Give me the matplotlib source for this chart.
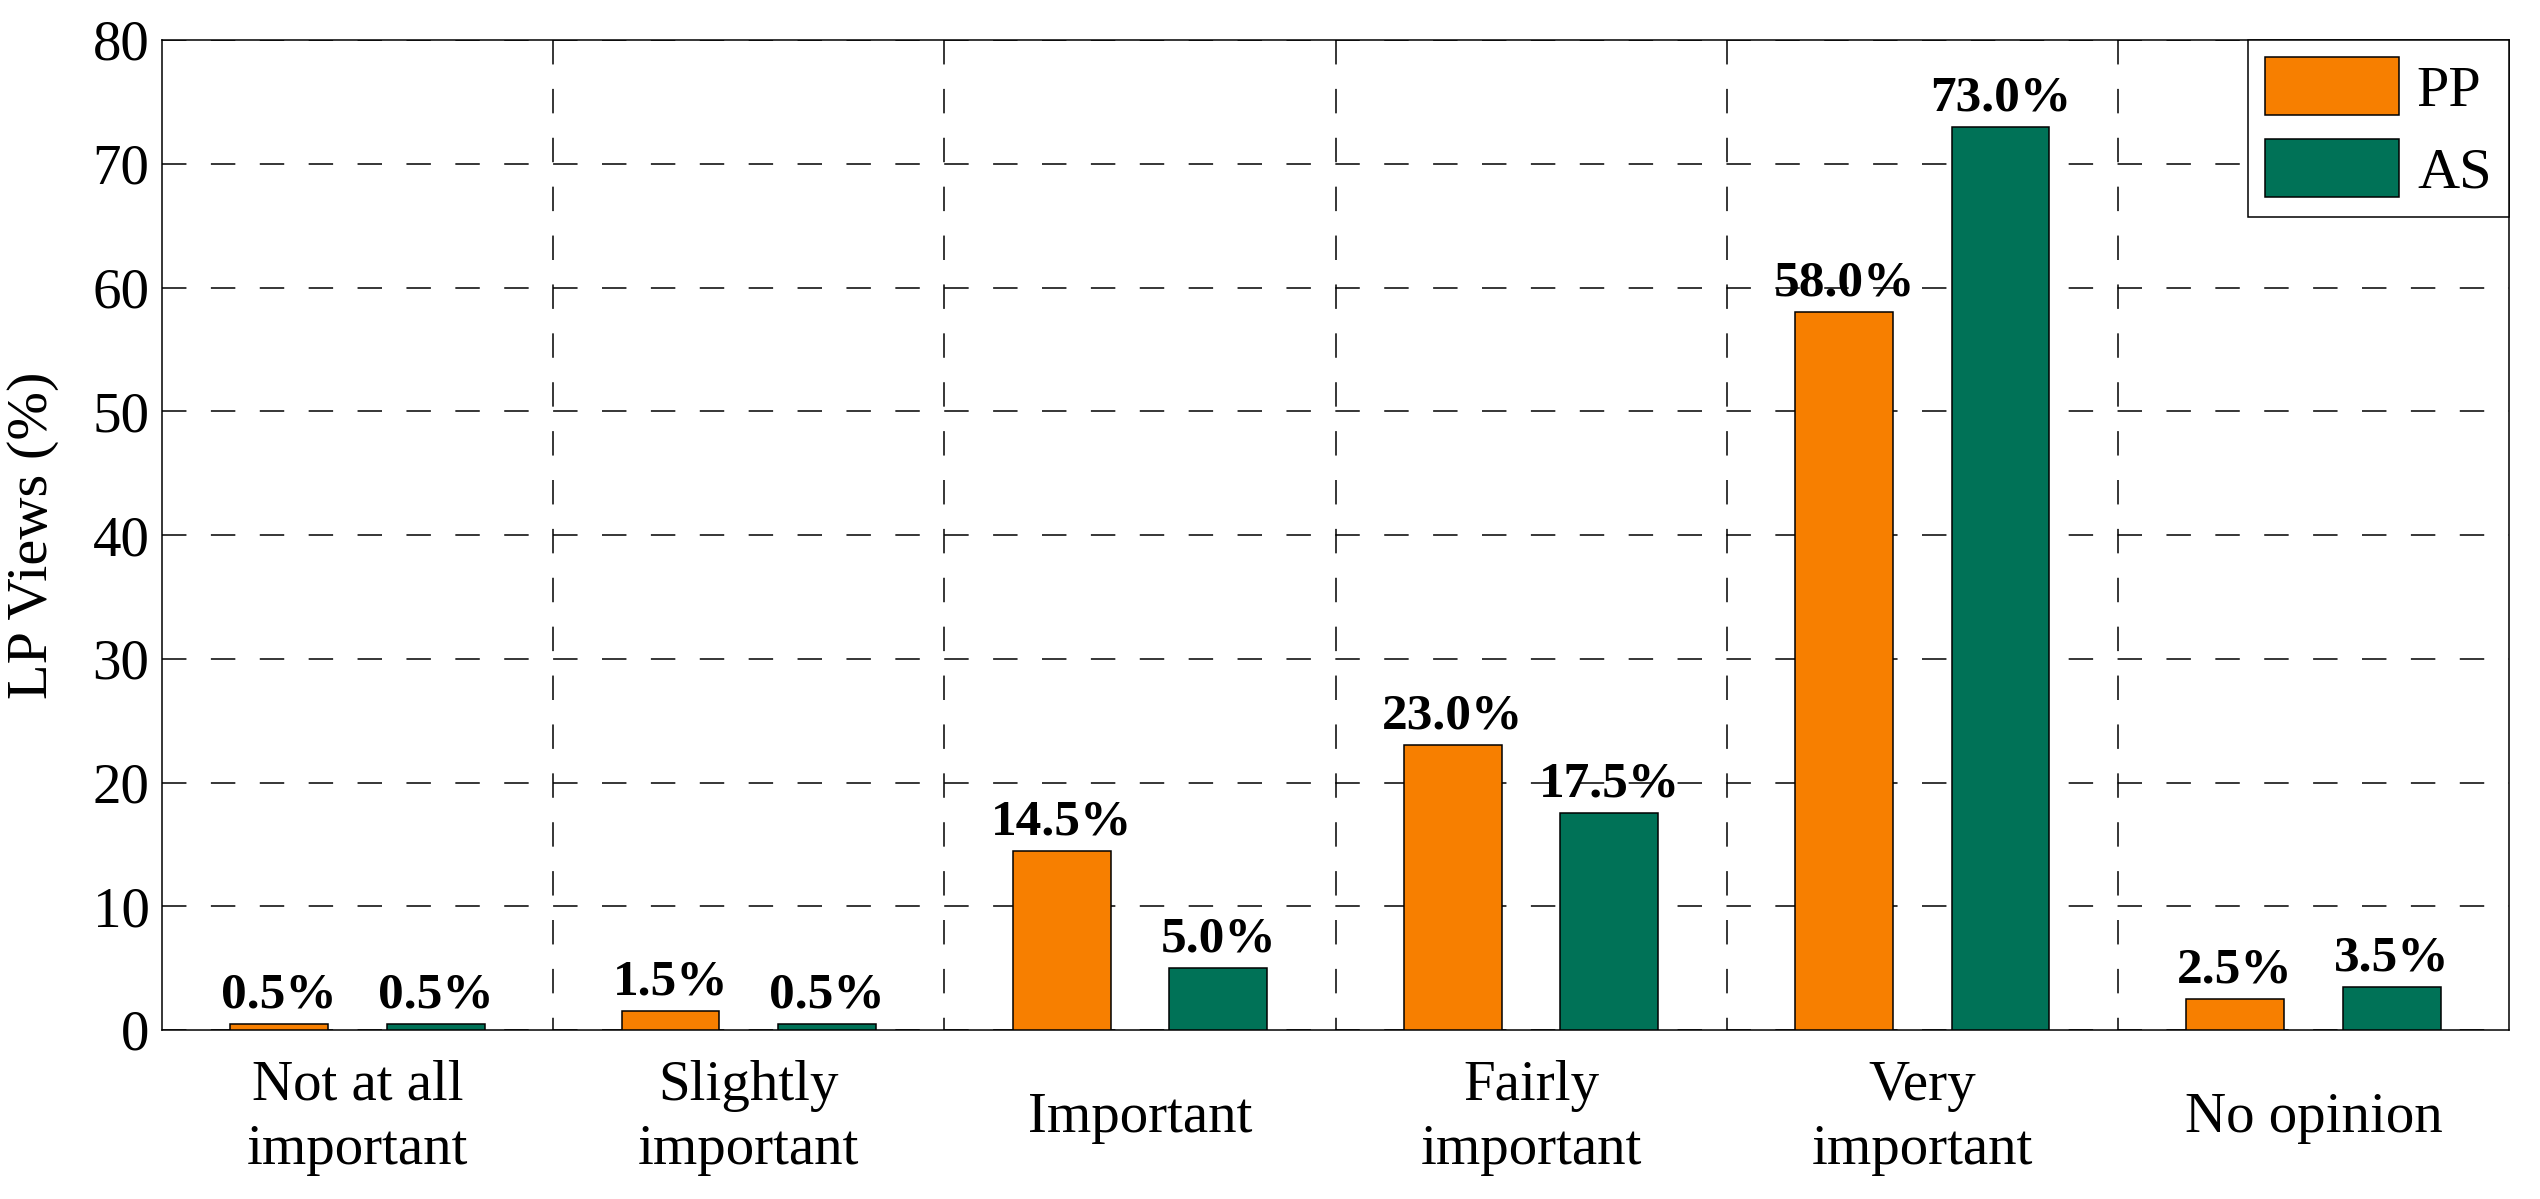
import matplotlib
matplotlib.use("Agg")
import matplotlib.pyplot as plt
import numpy as np

# survey answers, percent of respondents
categories = ["Not at all\nimportant", "Slightly\nimportant", "Important",
              "Fairly\nimportant", "Very\nimportant", "No opinion"]
pp_values = [0.5, 1.5, 14.5, 23.0, 58.0, 2.5]
as_values = [0.5, 0.5, 5.0, 17.5, 73.0, 3.5]
series_names = ["PP", "AS"]
yticks = [0, 10, 20, 30, 40, 50, 60, 70, 80]

plt.rcParams['font.family'] = ['Liberation Serif', 'DejaVu Serif']

fig = plt.figure(figsize=(25.4, 11.99), dpi=100)
ax = fig.add_axes([162 / 2540, 1 - 1030 / 1199, (2509 - 162) / 2540, (1030 - 40) / 1199])

x = np.arange(len(categories))
w = 0.25
b1 = ax.bar(x - 0.2, pp_values, w, color="#F77F00", edgecolor="black", linewidth=1.1,
            label=series_names[0], zorder=3)
b2 = ax.bar(x + 0.2, as_values, w, color="#007257", edgecolor="black", linewidth=1.1,
            label=series_names[1], zorder=3)

for bars, vals in ((b1, pp_values), (b2, as_values)):
    for r, v in zip(bars, vals):
        ax.annotate("%.1f%%" % v, (r.get_x() + r.get_width() / 2, r.get_height()),
                    xytext=(0, 4), textcoords="offset points", ha="center", va="bottom",
                    fontsize=37, fontweight="bold", zorder=4)

dash = (0, (16, 16))
for b in np.arange(0.5, len(categories) - 0.5, 1.0):
    ax.axvline(b, ymin=1, ymax=0, color="black", linewidth=1.1, linestyle=dash, zorder=1)
ax.set_yticks(yticks)
ax.yaxis.grid(True, color="black", linewidth=1.1, linestyle=dash, zorder=1)
ax.set_axisbelow(True)

ax.set_xlim(-0.5, len(categories) - 0.5)
ax.set_ylim(0, 80)
ax.set_xticks(x)
ax.set_xticklabels(categories, fontsize=41, linespacing=1.3, multialignment="center")
for lab in ax.get_xticklabels():
    lab.set_va("center")
ax.tick_params(axis="x", length=0, pad=63)
ax.tick_params(axis="y", length=0, pad=9, labelsize=41)
ax.set_ylabel("LP Views (%)", fontsize=42, labelpad=24)

for s in ax.spines.values():
    s.set_linewidth(1.1)

leg = ax.legend(loc="upper right", fontsize=42, borderaxespad=0, fancybox=False,
                edgecolor="black", framealpha=1, handlelength=2.3, handleheight=1.15,
                handletextpad=0.3, labelspacing=0.35, borderpad=0.3)
leg.get_frame().set_linewidth(1.1)

fig.savefig("out.png", dpi=100)
